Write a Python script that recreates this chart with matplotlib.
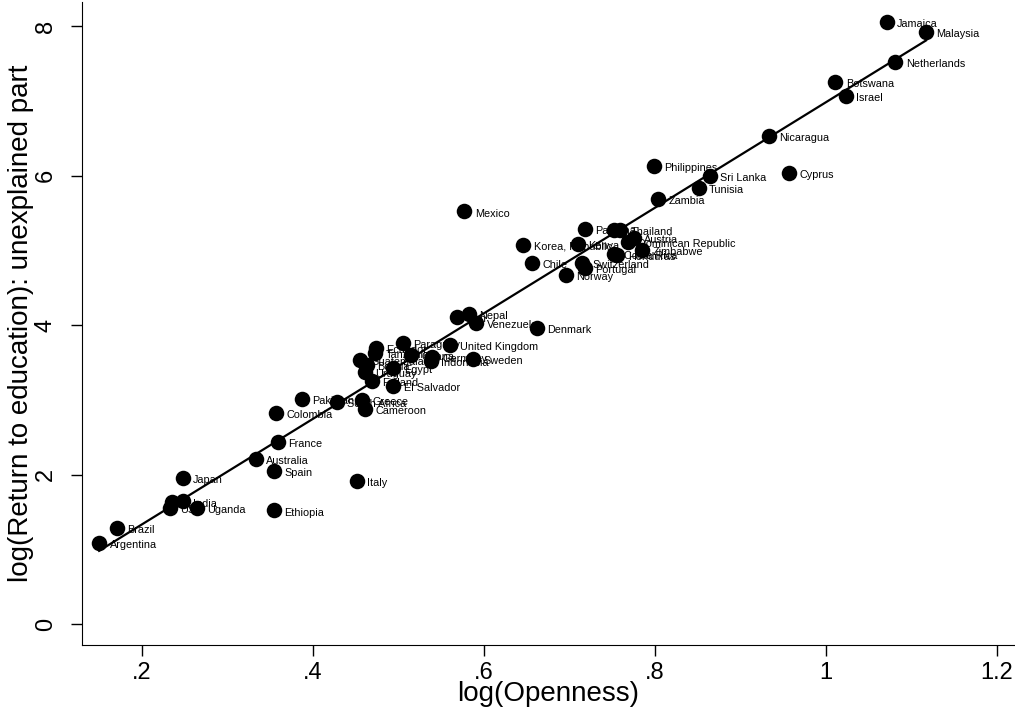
import numpy as np
import matplotlib
matplotlib.use('Agg')
import matplotlib.pyplot as plt

plt.rcParams['font.family'] = ['Liberation Sans', 'DejaVu Sans']

# ── Data ─────────────────────────────────────────────────────────────────────
countries = ['Jamaica', 'Malaysia', 'Netherlands', 'Botswana', 'Israel',
             'Nicaragua', 'Cyprus', 'Philippines', 'Sri Lanka', 'Tunisia',
             'Zambia', 'Mexico', 'Panama', '', 'Thailand', 'Austria',
             'Dominican Republic', 'Zimbabwe', 'Costa Rica', 'Honduras',
             'Korea, Republic', 'Kenya', 'Chile', 'Switzerland', 'Portugal',
             'Norway', 'Denmark', 'Iran', 'Nepal', 'Venezuela', 'Paraguay',
             'United Kingdom', 'Ecuador', 'Tanzania', 'Ghana', 'Germany',
             'Indonesia', 'Sweden', 'Guatemala', 'Bolivia', 'Egypt', 'Uruguay',
             'Finland', 'El Salvador', 'Pakistan', 'South Africa', 'Greece',
             'Cameroon', 'Colombia', 'France', 'Australia', 'Spain', 'Japan',
             'Italy', '', 'India', 'USA', 'Uganda', 'Ethiopia', 'Brazil',
             'Argentina']
openness = [1.071, 1.117, 1.081, 1.011, 1.023,
            0.933, 0.957, 0.799, 0.864, 0.851,
            0.804, 0.577, 0.718, 0.752, 0.759, 0.775,
            0.768, 0.785, 0.752, 0.756,
            0.646, 0.710, 0.656, 0.715, 0.718,
            0.696, 0.662, 0.568, 0.582, 0.591, 0.505,
            0.560, 0.474, 0.473, 0.515, 0.539,
            0.538, 0.587, 0.455, 0.463, 0.494, 0.461,
            0.469, 0.494, 0.387, 0.428, 0.457,
            0.461, 0.357, 0.359, 0.333, 0.354, 0.248,
            0.451, 0.235, 0.248, 0.233, 0.264, 0.354, 0.171,
            0.150]
ret_educ = [8.05, 7.92, 7.52, 7.25, 7.07,
            6.53, 6.03, 6.13, 5.99, 5.84,
            5.69, 5.52, 5.29, 5.27, 5.27, 5.17,
            5.11, 5.01, 4.95, 4.94,
            5.07, 5.09, 4.83, 4.83, 4.77,
            4.67, 3.96, 4.11, 4.15, 4.03, 3.76,
            3.73, 3.69, 3.63, 3.60, 3.57,
            3.52, 3.55, 3.53, 3.47, 3.43, 3.37,
            3.25, 3.19, 3.01, 2.97, 3.00,
            2.88, 2.83, 2.44, 2.21, 2.05, 1.95,
            1.92, 1.63, 1.64, 1.55, 1.55, 1.52, 1.28,
            1.09]

x = np.array(openness)
y = np.array(ret_educ)
b, a = np.polyfit(x, y, 1)
xf = np.array([x.min(), x.max()])

# ── Plot ─────────────────────────────────────────────────────────────────────
fig = plt.figure(figsize=(10.15, 7.16), dpi=100, facecolor='white')
ax = fig.add_axes([82/1015, 1 - 645/716, 1 - 82/1015, 645/716 - 0.003])

ax.scatter(x, y, s=125, color='black', zorder=3, linewidths=0)
for xi, yi, lbl in zip(x, y, countries):
    ax.annotate(lbl, (xi, yi), xytext=(7.5, -1.5), textcoords='offset points',
                fontsize=7.8, va='center', ha='left', zorder=4)
ax.plot(xf, a + b * xf, color='black', linewidth=1.6, zorder=2)

ax.set_xlim(0.13, 1.221)
ax.set_ylim(-0.28, 8.32)
ax.set_xticks([0.2, 0.4, 0.6, 0.8, 1.0, 1.2])
ax.set_xticklabels(['.2', '.4', '.6', '.8', '1', '1.2'])
ax.set_yticks([0, 2, 4, 6, 8])
ax.set_yticklabels(['0', '2', '4', '6', '8'], rotation=90, va='center')
ax.tick_params(axis='both', direction='out', length=8, width=1,
               labelsize=17)
ax.tick_params(axis='y', pad=10)
ax.tick_params(axis='x', pad=4)
ax.spines['top'].set_visible(False)
ax.spines['right'].set_visible(False)
ax.set_xlabel('log(Openness)', fontsize=20, labelpad=-2)
ax.set_ylabel('log(Return to education): unexplained part', fontsize=20,
              labelpad=1)

fig.savefig('out.png', dpi=100, facecolor='white')
plt.close(fig)
